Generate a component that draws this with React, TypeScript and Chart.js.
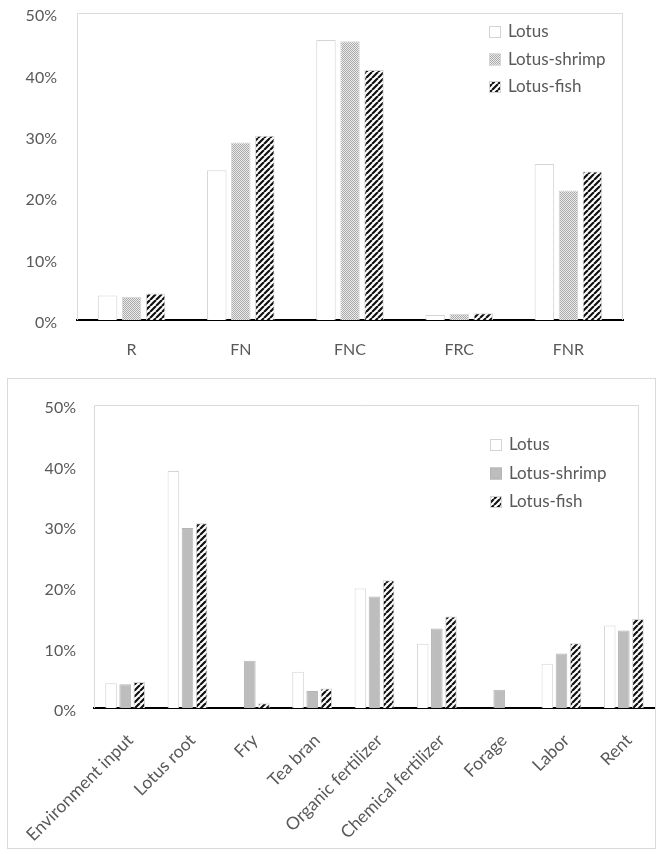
import React, { useEffect, useRef } from "react";
import { Chart, registerables } from "chart.js";

Chart.register(...registerables);

const seriesNames = ["Lotus", "Lotus-shrimp", "Lotus-fish"];
const yTickValues = [0, 10, 20, 30, 40, 50];

const topCategories = ["R", "FN", "FNC", "FRC", "FNR"];
const topLotus = [4.0, 24.4, 45.6, 0.8, 25.4];
const topShrimp = [3.8, 28.9, 45.4, 1.0, 21.1];
const topFish = [4.3, 30.0, 40.7, 1.1, 24.2];

const bottomCategories = [
  "Environment input",
  "Lotus root",
  "Fry",
  "Tea bran",
  "Organic fertilizer",
  "Chemical fertilizer",
  "Forage",
  "Labor",
  "Rent",
];
const bottomLotus = [4.1, 39.1, 0, 6.0, 19.7, 10.6, 0, 7.3, 13.6];
const bottomShrimp = [3.9, 29.7, 7.8, 2.8, 18.4, 13.1, 3.0, 9.0, 12.8];
const bottomFish = [4.3, 30.5, 0.8, 3.2, 21.1, 15.1, 0, 10.7, 14.7];

const TEXT = "#595959";
const FONT = "Lato";

function makeHatch(): CanvasPattern | string {
  const c = document.createElement("canvas");
  c.width = 6;
  c.height = 6;
  const x = c.getContext("2d");
  if (!x) return "#666";
  x.fillStyle = "#ffffff";
  x.fillRect(0, 0, 6, 6);
  x.strokeStyle = "#111111";
  x.lineWidth = 2.2;
  x.beginPath();
  for (const k of [-6, 0, 6]) {
    x.moveTo(k, 6);
    x.lineTo(k + 6, 0);
  }
  x.stroke();
  return x.createPattern(c, "repeat") || "#666";
}

function makeDots(): CanvasPattern | string {
  const c = document.createElement("canvas");
  c.width = 2;
  c.height = 2;
  const x = c.getContext("2d");
  if (!x) return "#ccc";
  x.fillStyle = "#ececec";
  x.fillRect(0, 0, 2, 2);
  x.fillStyle = "#a9a9a9";
  x.fillRect(0, 0, 1, 1);
  x.fillRect(1, 1, 1, 1);
  return x.createPattern(c, "repeat") || "#ccc";
}

const framePlugin = {
  id: "plotFrame",
  beforeDatasetsDraw(chart: any, _args: any, opts: any) {
    const { ctx, chartArea: a } = chart;
    const r = a.right - (opts.rightInset || 0);
    ctx.save();
    ctx.strokeStyle = opts.color || "#d9d9d9";
    ctx.lineWidth = 1;
    ctx.beginPath();
    ctx.moveTo(a.left + 0.5, a.bottom);
    ctx.lineTo(a.left + 0.5, a.top + 0.5);
    ctx.lineTo(r - 0.5, a.top + 0.5);
    ctx.lineTo(r - 0.5, a.bottom);
    ctx.stroke();
    ctx.restore();
  },
};

const legendPlugin = {
  id: "boxLegend",
  afterDraw(chart: any, _args: any, opts: any) {
    const { ctx, chartArea: a } = chart;
    ctx.save();
    ctx.font = `${opts.size || 16}px ${FONT}`;
    ctx.textBaseline = "middle";
    ctx.textAlign = "left";
    chart.data.datasets.forEach((ds: any, i: number) => {
      const x = a.right - opts.offsetX;
      const y = a.top + opts.firstY + i * opts.rowGap;
      ctx.fillStyle = ds.backgroundColor;
      ctx.fillRect(x, y - 6, 12, 12);
      ctx.strokeStyle = ds.borderColor;
      ctx.lineWidth = 1;
      ctx.strokeRect(x + 0.5, y - 5.5, 11, 11);
      ctx.fillStyle = TEXT;
      ctx.fillText(ds.label, x + 19, y);
    });
    ctx.restore();
  },
};

function buildChart(
  canvas: HTMLCanvasElement,
  labels: string[],
  values: number[][],
  fills: any[],
  borders: string[],
  cfg: any
) {
  return new Chart(canvas, {
    type: "bar",
    data: {
      labels,
      datasets: values.map((v, i) => ({
        label: seriesNames[i],
        data: v,
        backgroundColor: fills[i],
        borderColor: borders[i],
        borderWidth: 1,
        categoryPercentage: cfg.cp,
        barPercentage: cfg.bp,
      })),
    },
    options: {
      animation: false,
      responsive: true,
      maintainAspectRatio: false,
      layout: { padding: cfg.padding },
      plugins: {
        legend: { display: false },
        tooltip: { enabled: false },
        plotFrame: { color: "#d9d9d9", rightInset: cfg.rightInset },
        boxLegend: cfg.legend,
      } as any,
      scales: {
        x: {
          grid: { display: false, drawTicks: false },
          border: { display: true, color: "#000000", width: 2 },
          ticks: {
            color: TEXT,
            font: { family: FONT, size: cfg.xFont },
            padding: cfg.xPad,
            minRotation: cfg.rot,
            maxRotation: cfg.rot,
            autoSkip: false,
            labelOffset: cfg.xLabelOffset || 0,
          },
          afterFit: (s: any) => {
            s.height = cfg.xHeight;
            s.paddingLeft = 0;
            s.paddingRight = 0;
          },
        },
        y: {
          min: 0,
          max: 50,
          grid: { display: false, drawTicks: false },
          border: { display: false },
          afterBuildTicks: (s: any) => {
            s.ticks = yTickValues.map((v) => ({ value: v }));
          },
          ticks: {
            color: TEXT,
            font: { family: FONT, size: 16 },
            padding: cfg.yPad,
            labelOffset: 3,
            callback: (v: any) => `${v}%`,
          },
          afterFit: (s: any) => {
            s.width = cfg.yWidth;
            s.paddingTop = 0;
            s.paddingBottom = 0;
          },
        },
      },
    },
    plugins: [framePlugin, legendPlugin],
  } as any);
}

export default function App() {
  const topRef = useRef<HTMLCanvasElement>(null);
  const botRef = useRef<HTMLCanvasElement>(null);

  useEffect(() => {
    const hatch = makeHatch();
    const dots = makeDots();
    const charts: Chart[] = [];
    if (topRef.current) {
      charts.push(
        buildChart(
          topRef.current,
          topCategories,
          [topLotus, topShrimp, topFish],
          ["#ffffff", dots, hatch],
          ["#d4d4d4", "#d4d4d4", "#d4d4d4"],
          {
            cp: 0.66,
            bp: 0.81,
            padding: { top: 13, right: 43, left: 0, bottom: 0 },
            rightInset: 0,
            legend: { offsetX: 134, firstY: 19, rowGap: 27.5, size: 17 },
            xFont: 16,
            xPad: 20,
            rot: 0,
            xHeight: 50,
            yPad: 20,
            yWidth: 77,
          }
        )
      );
    }
    if (botRef.current) {
      charts.push(
        buildChart(
          botRef.current,
          bottomCategories,
          [bottomLotus, bottomShrimp, bottomFish],
          ["#ffffff", "#bdbdbd", hatch],
          ["#d4d4d4", "#b5b5b5", "#d4d4d4"],
          {
            cp: 0.68,
            bp: 0.82,
            padding: { top: 26, right: 0, left: 0, bottom: 0 },
            rightInset: 16,
            legend: { offsetX: 165, firstY: 40, rowGap: 28.5, size: 17 },
            xFont: 17.5,
            xPad: 22,
            rot: 45,
            xLabelOffset: 5,
            xHeight: 140,
            yPad: 18,
            yWidth: 86,
          }
        )
      );
    }
    return () => charts.forEach((c) => c.destroy());
  }, []);

  return (
    <div
      style={{
        position: "absolute",
        left: 0,
        top: 0,
        width: 666,
        height: 854,
        background: "#ffffff",
      }}
    >
      <div style={{ position: "absolute", left: 0, top: 0, width: 666, height: 370 }}>
        <canvas ref={topRef} />
      </div>
      <div
        style={{
          position: "absolute",
          left: 7,
          top: 378,
          width: 647,
          height: 469,
          border: "1px solid #d9d9d9",
        }}
      >
        <canvas ref={botRef} />
      </div>
    </div>
  );
}
